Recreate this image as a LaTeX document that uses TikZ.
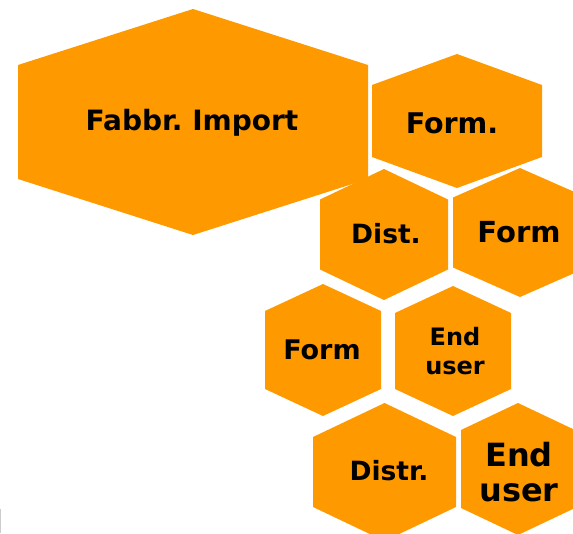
\documentclass[tikz,border=0pt]{standalone}
\usepackage{fontspec}
\setmainfont{DejaVu Sans}
\frenchspacing
\definecolor{cellorange}{RGB}{255,153,0}

% hexagon standing on a corner: centre x, centre y, half width, half side, half height
\newcommand{\hexcell}[5]{%
  \fill[cell] ({#1},{#2-#5}) -- ({#1+#3},{#2-#4}) -- ({#1+#3},{#2+#4})
    -- ({#1},{#2+#5}) -- ({#1-#3},{#2+#4}) -- ({#1-#3},{#2-#4}) -- cycle;}

\begin{document}
\begin{tikzpicture}[
          cell/.style={fill=cellorange},
          lbl/.style={text=black, align=center, inner sep=0pt, font=\bfseries},
          x=1pt,
          y=-1pt,
        ]
      \useasboundingbox (0,0) rectangle (573,533);
      \hexcell{193}{122}{175}{57}{113}
      \hexcell{457}{121}{85}{36}{67}
      \hexcell{384}{234.5}{64}{35}{65.5}
      \hexcell{520}{232.5}{67}{35}{64.5}
      \hexcell{323}{350}{58}{39}{66}
      \hexcell{453}{351}{58}{38}{65}
      \hexcell{384.5}{472}{71.5}{35}{69}
      \hexcell{518}{469}{57}{39}{66}
      \node[lbl, font=\fontsize{28}{32}\selectfont\bfseries] (imp) at (192, 123) {Fabbr. Import};
      \node[lbl, font=\fontsize{28.5}{32}\selectfont\bfseries] (formtop) at (452, 123) {Form.};
      \node[lbl, font=\fontsize{26.5}{30}\selectfont\bfseries] (dist) at (386, 234) {Dist.};
      \node[lbl, font=\fontsize{29}{32}\selectfont\bfseries] (formright) at (519, 232) {Form};
      \node[lbl, font=\fontsize{27}{30}\selectfont\bfseries] (formleft) at (322, 350) {Form};
      \node[lbl, font=\fontsize{24}{29}\selectfont\bfseries] (usermid) at (455, 351) {End\\user};
      \node[lbl, font=\fontsize{26.5}{29}\selectfont\bfseries] (distr) at (389, 471) {Distr.};
      \node[lbl, font=\fontsize{32}{35}\selectfont\bfseries] (userlow) at (519, 472) {End\\user};
      \draw[gray!40, line width=1pt] (0.5, 509) -- (0.5, 533);
    \end{tikzpicture}
\end{document}
